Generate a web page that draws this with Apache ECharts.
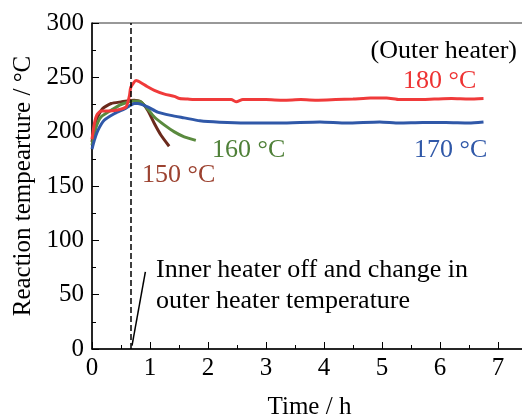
<!DOCTYPE html>
<html>
<head>
<meta charset="utf-8">
<script src="https://cdn.jsdelivr.net/npm/echarts@6/dist/echarts.min.js"></script>
<style>
  html, body { margin: 0; padding: 0; background: #fff; }
  #chart { width: 522px; height: 419px; }
</style>
</head>
<body>
<div id="chart"></div>
<script>
// time (h) and reaction temperature (°C)
const redTime = [0, 0.04, 0.08, 0.155, 0.27, 0.44, 0.59, 0.645, 0.67, 0.76, 0.845, 0.95, 1.075, 1.25, 1.42, 1.51, 1.65, 1.82, 2.0, 2.2, 2.4, 2.49, 2.6, 2.8, 3.0, 3.3, 3.6, 3.9, 4.2, 4.5, 4.8, 5.08, 5.3, 5.6, 5.9, 6.2, 6.5, 6.75]
const redTemp = [193, 207, 215, 219, 219, 220, 223, 233, 241, 247, 245, 241.5, 238, 234.5, 232.5, 230.5, 230, 229.5, 229.5, 229.5, 229.5, 227.5, 229.5, 229.5, 229.5, 229, 229.5, 229, 229.5, 230, 231, 231, 229.5, 229.5, 230, 230.5, 230, 230.5]

const blueTime = [0, 0.04, 0.1, 0.21, 0.39, 0.56, 0.73, 0.79, 0.96, 1.13, 1.36, 1.59, 1.86, 2.2, 2.66, 3.24, 3.93, 4.39, 4.96, 5.3, 5.7, 6.1, 6.5, 6.75]
const blueTemp = [184, 192, 201, 210.5, 216.7, 221, 225.9, 226, 222.8, 218, 215, 212.7, 210, 208.7, 208, 208, 209, 208, 209, 208, 208.5, 208.5, 208, 209]

const greenTime = [0, 0.07, 0.155, 0.33, 0.5, 0.73, 0.82, 0.93, 1.075, 1.25, 1.42, 1.59, 1.79]
const greenTemp = [187.5, 204, 213.5, 219.7, 225, 228.3, 228, 222.8, 213.5, 206, 199.8, 195.2, 192]

const brownTime = [0, 0.07, 0.18, 0.33, 0.5, 0.73, 0.845, 0.96, 1.075, 1.19, 1.33]
const brownTemp = [190.6, 210.5, 221, 225.9, 227.4, 229, 227.4, 219.7, 207.5, 196.7, 186.6]

const heaterOffTime = 0.667
const pointerTime = [0.69, 0.92]
const pointerTemp = [3, 71]

const zip = (xs, ys) => xs.map((x, i) => [x, ys[i]])

const FONT = 'Liberation Serif'

const chart = echarts.init(document.getElementById('chart'), null, { renderer: 'canvas' })

function lineSeries(name, data, color) {
  return {
    name,
    type: 'line',
    data,
    showSymbol: false,
    smooth: 0.2,
    lineStyle: { color, width: 3 },
    z: 3,
  }
}

function label(text, x, y, color, align) {
  return {
    type: 'text',
    x,
    y,
    style: {
      text,
      fill: color,
      fontFamily: FONT,
      fontSize: 26,
      align: align || 'left',
      verticalAlign: 'middle',
    },
  }
}

const axisText = { fontFamily: FONT, fontSize: 25, color: '#000' }

chart.setOption({
  backgroundColor: '#fff',
  animation: false,
  textStyle: { fontFamily: FONT },
  grid: {
    left: 92,
    top: 23,
    width: 435,
    height: 326,
    outerBoundsMode: 'none',
    containLabel: false,
    show: true,
    borderColor: '#333',
    borderWidth: 1,
  },
  xAxis: {
    type: 'value',
    min: 0,
    max: 7.5,
    interval: 1,
    name: 'Time / h',
    nameLocation: 'middle',
    nameGap: 46,
    nameTextStyle: axisText,
    axisLine: { lineStyle: { color: '#000', width: 1.5 } },
    axisTick: { inside: true, length: 7, lineStyle: { color: '#000', width: 1 } },
    minorTick: { show: true, splitNumber: 2, length: 4, lineStyle: { color: '#000', width: 1 } },
    axisLabel: Object.assign({}, axisText, {
      margin: 7,
      formatter: (v) => (Number.isInteger(v) ? String(v) : ''),
    }),
    splitLine: { show: false },
  },
  yAxis: {
    type: 'value',
    min: 0,
    max: 300,
    interval: 50,
    name: 'Reaction tempearture / °C',
    nameLocation: 'middle',
    nameGap: 56,
    nameTextStyle: axisText,
    axisLine: { show: true, lineStyle: { color: '#000', width: 1.5 } },
    axisTick: { show: true, inside: true, length: 7, lineStyle: { color: '#000', width: 1 } },
    minorTick: { show: true, splitNumber: 2, length: 4, lineStyle: { color: '#000', width: 1 } },
    axisLabel: Object.assign({}, axisText, { margin: 8 }),
    splitLine: { show: false },
  },
  series: [
    lineSeries('150 °C', zip(brownTime, brownTemp), '#6b2a1c'),
    lineSeries('160 °C', zip(greenTime, greenTemp), '#5a8a3e'),
    lineSeries('170 °C', zip(blueTime, blueTemp), '#3058a8'),
    Object.assign(lineSeries('180 °C', zip(redTime, redTemp), '#f03a3a'), {
      markLine: {
        silent: true,
        symbol: 'none',
        label: { show: false },
        lineStyle: { color: '#000', type: [6, 3], width: 1.5 },
        data: [{ xAxis: heaterOffTime }],
      },
    }),
    {
      name: 'pointer',
      type: 'line',
      data: zip(pointerTime, pointerTemp),
      showSymbol: false,
      lineStyle: { color: '#000', width: 1.5 },
      z: 4,
    },
  ],
  graphic: [
    label('(Outer heater)', 517, 51, '#000', 'right'),
    label('180 °C', 403, 81, '#ee3333'),
    label('170 °C', 414, 150, '#3058a8'),
    label('160 °C', 212, 150, '#4f8038'),
    label('150 °C', 142, 175, '#9c4230'),
    label('Inner heater off and change in', 156, 270, '#000'),
    label('outer heater temperature', 156, 301, '#000'),
  ],
})
</script>
</body>
</html>
